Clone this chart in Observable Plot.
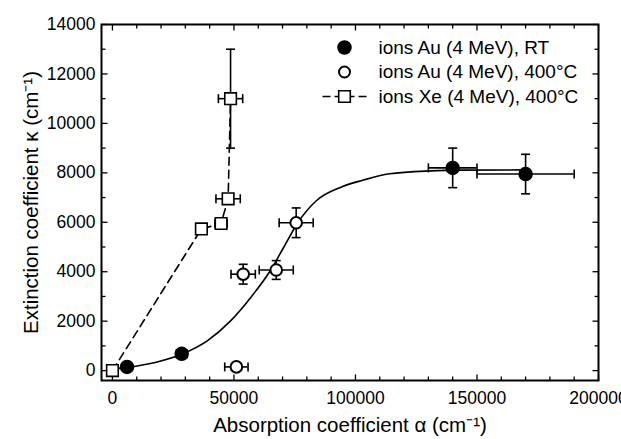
<!DOCTYPE html>
<html>
<head>
<meta charset="utf-8">
<script src="https://cdn.jsdelivr.net/npm/d3@7"></script>
<script src="https://cdn.jsdelivr.net/npm/@observablehq/plot@0.6"></script>
<style>
  html, body { margin: 0; padding: 0; background: #fff; }
  #chart svg { display: block; }
</style>
</head>
<body>
<div id="chart"></div>
<script>
// ---- Data ----
// ions Au (4 MeV), RT  (filled circles)
const auRtX    = [6000, 28500, 140000, 170000];
const auRtY    = [150, 680, 8200, 7950];
const auRtXErr = [0, 2200, 10000, 20000];
const auRtYErr = [0, 0, 800, 800];

// ions Au (4 MeV), 400°C  (open circles)
const au400X    = [51000, 53800, 67400, 75600];
const au400Y    = [150, 3900, 4070, 5980];
const au400XErr = [4800, 5000, 7000, 7000];
const au400YErr = [0, 400, 380, 600];

// ions Xe (4 MeV), 400°C  (open squares, dashed line)
const xeX    = [0, 36600, 44700, 47600, 48600];
const xeY    = [0, 5730, 5950, 6950, 11000];
const xeXErr = [1500, 2200, 2500, 5000, 5000];
const xeYErr = [0, 0, 0, 0, 2000];

// solid fitted curve
const fitX = [0, 6000, 18000, 29000, 39000, 48500, 57000, 65000, 70500, 76000, 84000, 94000, 103000, 114000, 131000, 143000, 170000];
const fitY = [60, 130, 340, 680, 1200, 2000, 2970, 4050, 4990, 5940, 6880, 7420, 7700, 7960, 8080, 8110, 8120];

// axes
const xMajor = [0, 50000, 100000, 150000, 200000];
const xMinor = [10000, 20000, 30000, 40000, 60000, 70000, 80000, 90000, 110000, 120000, 130000, 140000, 160000, 170000, 180000, 190000];
const yMajor = [0, 2000, 4000, 6000, 8000, 10000, 12000, 14000];
const yMinor = [1000, 3000, 5000, 7000, 9000, 11000, 13000];
const xDomain = [-4500, 200000];
const yDomain = [-400, 14000];

const xTitle = "Absorption coefficient α (cm⁻¹)";
const yTitle = "Extinction coefficient κ (cm⁻¹)";
const legendLabels = ["ions Au (4 MeV), RT", "ions Au (4 MeV), 400°C", "ions Xe (4 MeV), 400°C"];

// ---- build tables ----
const mk = (X, Y, EX, EY) => X.map((x, i) => ({x, y: Y[i], ex: EX[i], ey: EY[i]}));
const auRt = mk(auRtX, auRtY, auRtXErr, auRtYErr);
const au400 = mk(au400X, au400Y, au400XErr, au400YErr);
const xe = mk(xeX, xeY, xeXErr, xeYErr);
const fit = fitX.map((x, i) => ({x, y: fitY[i]}));
const all = [...auRt, ...au400, ...xe];

// ---- custom symbols (drawn in pixels) ----
const rad = (size) => Math.sqrt(size / Math.PI);
const capH = {draw(c, s) { const r = rad(s); c.moveTo(-r, 0); c.lineTo(r, 0); }};
const capV = {draw(c, s) { const r = rad(s); c.moveTo(0, -r); c.lineTo(0, r); }};
const tickUp = {draw(c, s) { const r = rad(s); c.moveTo(0, 0); c.lineTo(0, -r); }};
const tickDown = {draw(c, s) { const r = rad(s); c.moveTo(0, 0); c.lineTo(0, r); }};
const tickRight = {draw(c, s) { const r = rad(s); c.moveTo(0, 0); c.lineTo(r, 0); }};
const tickLeft = {draw(c, s) { const r = rad(s); c.moveTo(0, 0); c.lineTo(-r, 0); }};
const sq = {draw(c, s) { const h = rad(s); c.rect(-h, -h, 2 * h, 2 * h); }};
const dashSeg = {draw(c, s) { const r = rad(s); c.moveTo(-r, 0); c.lineTo(r, 0); }};

const capLen = 4.5;
const errMarks = (data) => {
  const hx = data.filter(d => d.ex > 0);
  const vy = data.filter(d => d.ey > 0);
  return [
    Plot.ruleY(hx, {y: "y", x1: d => d.x - d.ex, x2: d => d.x + d.ex, stroke: "#000", strokeWidth: 1.6}),
    Plot.dot(hx, {x: d => d.x - d.ex, y: "y", symbol: capV, r: capLen, stroke: "#000", strokeWidth: 1.6, fill: "none"}),
    Plot.dot(hx, {x: d => d.x + d.ex, y: "y", symbol: capV, r: capLen, stroke: "#000", strokeWidth: 1.6, fill: "none"}),
    Plot.ruleX(vy, {x: "x", y1: d => d.y - d.ey, y2: d => d.y + d.ey, stroke: "#000", strokeWidth: 1.6}),
    Plot.dot(vy, {x: "x", y: d => d.y - d.ey, symbol: capH, r: capLen, stroke: "#000", strokeWidth: 1.6, fill: "none"}),
    Plot.dot(vy, {x: "x", y: d => d.y + d.ey, symbol: capH, r: capLen, stroke: "#000", strokeWidth: 1.6, fill: "none"})
  ];
};

const font = "Arial, 'Liberation Sans', Helvetica, sans-serif";
const tk = {stroke: "#000", strokeWidth: 1.3, fill: "none"};

// legend (positioned relative to the frame)
const legDx = 243, legTx = 277, legDy0 = 23, legStep = 24.5;
const legendMarks = [
  Plot.dot([0], {frameAnchor: "top-left", dx: legDx, dy: legDy0, r: 6.5, fill: "#000", stroke: "#000"}),
  Plot.dot([0], {frameAnchor: "top-left", dx: legDx, dy: legDy0 + legStep, r: 5.5, fill: "#fff", stroke: "#000", strokeWidth: 2}),
  Plot.dot([0], {frameAnchor: "top-left", dx: legDx, dy: legDy0 + 2 * legStep, r: 22, symbol: dashSeg, stroke: "#000", strokeWidth: 1.6, strokeDasharray: "8,4", fill: "none"}),
  Plot.dot([0], {frameAnchor: "top-left", dx: legDx, dy: legDy0 + 2 * legStep, r: 5.8, symbol: sq, fill: "#fff", stroke: "#000", strokeWidth: 1.6}),
  ...legendLabels.map((t, i) => Plot.text([t], {frameAnchor: "top-left", dx: legTx, dy: legDy0 + i * legStep, text: d => d, textAnchor: "start", lineAnchor: "middle", fontSize: 19, fill: "#000"}))
];

const chart = Plot.plot({
  width: 621,
  height: 439,
  marginLeft: 101,
  marginRight: 23,
  marginTop: 24,
  marginBottom: 59,
  style: {fontFamily: font, background: "#fff", color: "#000", overflow: "visible"},
  x: {domain: xDomain, axis: null},
  y: {domain: yDomain, axis: null},
  marks: [
    // ticks (inward on all four sides)
    Plot.dot(xMajor, {x: d => d, frameAnchor: "bottom", symbol: tickUp, r: 6, ...tk}),
    Plot.dot(xMinor, {x: d => d, frameAnchor: "bottom", symbol: tickUp, r: 4, ...tk}),
    Plot.dot(xMajor, {x: d => d, frameAnchor: "top", symbol: tickDown, r: 6, ...tk}),
    Plot.dot(xMinor, {x: d => d, frameAnchor: "top", symbol: tickDown, r: 4, ...tk}),
    Plot.dot(yMajor, {y: d => d, frameAnchor: "left", symbol: tickRight, r: 6, ...tk}),
    Plot.dot(yMinor, {y: d => d, frameAnchor: "left", symbol: tickRight, r: 4, ...tk}),
    Plot.dot(yMajor, {y: d => d, frameAnchor: "right", symbol: tickLeft, r: 6, ...tk}),
    Plot.dot(yMinor, {y: d => d, frameAnchor: "right", symbol: tickLeft, r: 4, ...tk}),
    // tick labels
    Plot.text(xMajor, {x: d => d, frameAnchor: "bottom", dy: 18, text: d => String(d), lineAnchor: "middle", fontSize: 17.5, fill: "#000"}),
    Plot.text(yMajor, {y: d => d, frameAnchor: "left", dx: -6, text: d => String(d), textAnchor: "end", lineAnchor: "middle", fontSize: 17.5, fill: "#000"}),
    // axis titles
    Plot.text([xTitle], {frameAnchor: "bottom", dy: 45, text: d => d, textAnchor: "middle", lineAnchor: "middle", fontSize: 20.5, fill: "#000"}),
    Plot.text([yTitle], {frameAnchor: "left", dx: -70, text: d => d, rotate: -90, textAnchor: "middle", lineAnchor: "middle", fontSize: 20.5, fill: "#000"}),
    // curves
    Plot.line(fit, {x: "x", y: "y", curve: "monotone-x", stroke: "#000", strokeWidth: 1.6}),
    Plot.line(xe, {x: "x", y: "y", stroke: "#000", strokeWidth: 1.6, strokeDasharray: "8,5"}),
    // error bars
    ...errMarks(all),
    // markers
    Plot.dot(auRt, {x: "x", y: "y", r: 6.5, fill: "#000", stroke: "#000"}),
    Plot.dot(au400, {x: "x", y: "y", r: 5.8, fill: "#fff", stroke: "#000", strokeWidth: 2}),
    Plot.dot(xe, {x: "x", y: "y", r: 5.8, symbol: sq, fill: "#fff", stroke: "#000", strokeWidth: 1.6}),
    // legend
    ...legendMarks,
    // frame
    Plot.frame({stroke: "#000", strokeWidth: 2})
  ]
});
document.getElementById("chart").appendChild(chart);
</script>
</body>
</html>
